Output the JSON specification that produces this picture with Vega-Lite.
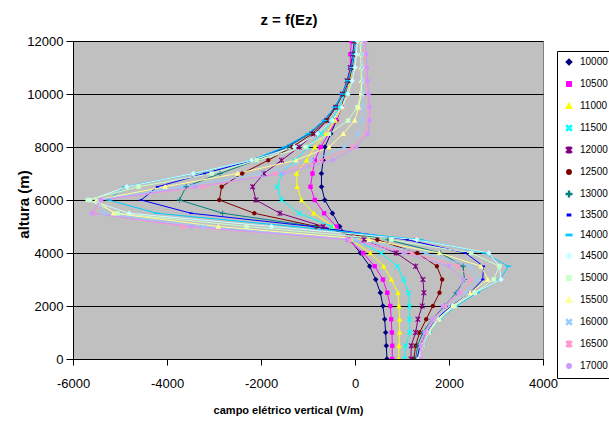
{
"$schema":"https://vega.github.io/schema/vega-lite/v6.json",
"width":470,"height":318,
"autosize":{"type":"none"},
"padding":{"left":73,"top":41,"right":66,"bottom":62},
"background":"white",
"title":{"text":"z = f(Ez)","fontSize":15,"font":"Liberation Sans","fontWeight":"bold","color":"black","anchor":"middle","dx":-19,"offset":7},
"data":{"values":[
{"s":"10000","z":0,"e":680},{"s":"10000","z":500,"e":666},{"s":"10000","z":1000,"e":652},{"s":"10000","z":1500,"e":631},{"s":"10000","z":2000,"e":595},{"s":"10000","z":2500,"e":539},{"s":"10000","z":3000,"e":440},{"s":"10000","z":3500,"e":312},{"s":"10000","z":4000,"e":114},{"s":"10000","z":4500,"e":-110},{"s":"10000","z":5000,"e":-325},{"s":"10000","z":5500,"e":-480},{"s":"10000","z":6000,"e":-643},{"s":"10000","z":6500,"e":-713},{"s":"10000","z":7000,"e":-714},{"s":"10000","z":7500,"e":-678},{"s":"10000","z":8000,"e":-640},{"s":"10000","z":8500,"e":-516},{"s":"10000","z":9000,"e":-396},{"s":"10000","z":9500,"e":-290},{"s":"10000","z":10000,"e":-200},{"s":"10000","z":10500,"e":-130},{"s":"10000","z":11000,"e":-80},{"s":"10000","z":11500,"e":-40},{"s":"10000","z":12000,"e":-10},
{"s":"10500","z":0,"e":793},{"s":"10500","z":500,"e":793},{"s":"10500","z":1000,"e":786},{"s":"10500","z":1500,"e":772},{"s":"10500","z":2000,"e":751},{"s":"10500","z":2500,"e":687},{"s":"10500","z":3000,"e":595},{"s":"10500","z":3500,"e":418},{"s":"10500","z":4000,"e":171},{"s":"10500","z":4500,"e":-148},{"s":"10500","z":5000,"e":-395},{"s":"10500","z":5500,"e":-657},{"s":"10500","z":6000,"e":-855},{"s":"10500","z":6500,"e":-947},{"s":"10500","z":7000,"e":-905},{"s":"10500","z":7500,"e":-855},{"s":"10500","z":8000,"e":-728},{"s":"10500","z":8500,"e":-560},{"s":"10500","z":9000,"e":-400},{"s":"10500","z":9500,"e":-280},{"s":"10500","z":10000,"e":-190},{"s":"10500","z":10500,"e":-130},{"s":"10500","z":11000,"e":-100},{"s":"10500","z":11500,"e":-98},{"s":"10500","z":12000,"e":-77},
{"s":"11000","z":0,"e":928},{"s":"11000","z":500,"e":935},{"s":"11000","z":1000,"e":949},{"s":"11000","z":1500,"e":949},{"s":"11000","z":2000,"e":935},{"s":"11000","z":2500,"e":914},{"s":"11000","z":3000,"e":772},{"s":"11000","z":3500,"e":610},{"s":"11000","z":4000,"e":326},{"s":"11000","z":4500,"e":-77},{"s":"11000","z":5000,"e":-466},{"s":"11000","z":5500,"e":-876},{"s":"11000","z":6000,"e":-1138},{"s":"11000","z":6500,"e":-1230},{"s":"11000","z":7000,"e":-1244},{"s":"11000","z":7500,"e":-1032},{"s":"11000","z":8000,"e":-855},{"s":"11000","z":8500,"e":-620},{"s":"11000","z":9000,"e":-420},{"s":"11000","z":9500,"e":-280},{"s":"11000","z":10000,"e":-180},{"s":"11000","z":10500,"e":-110},{"s":"11000","z":11000,"e":-60},{"s":"11000","z":11500,"e":-30},{"s":"11000","z":12000,"e":0},
{"s":"11500","z":0,"e":1055},{"s":"11500","z":500,"e":1077},{"s":"11500","z":1000,"e":1161},{"s":"11500","z":1500,"e":1161},{"s":"11500","z":2000,"e":1161},{"s":"11500","z":2500,"e":1140},{"s":"11500","z":3000,"e":1034},{"s":"11500","z":3500,"e":900},{"s":"11500","z":4000,"e":560},{"s":"11500","z":4500,"e":0},{"s":"11500","z":5000,"e":-500},{"s":"11500","z":5500,"e":-1188},{"s":"11500","z":6000,"e":-1563},{"s":"11500","z":6500,"e":-1655},{"s":"11500","z":7000,"e":-1563},{"s":"11500","z":7500,"e":-1280},{"s":"11500","z":8000,"e":-1000},{"s":"11500","z":8500,"e":-720},{"s":"11500","z":9000,"e":-500},{"s":"11500","z":9500,"e":-340},{"s":"11500","z":10000,"e":-220},{"s":"11500","z":10500,"e":-140},{"s":"11500","z":11000,"e":-80},{"s":"11500","z":11500,"e":-40},{"s":"11500","z":12000,"e":-10},
{"s":"12000","z":0,"e":1190},{"s":"12000","z":500,"e":1197},{"s":"12000","z":1000,"e":1289},{"s":"12000","z":1500,"e":1338},{"s":"12000","z":2000,"e":1430},{"s":"12000","z":2500,"e":1466},{"s":"12000","z":3000,"e":1445},{"s":"12000","z":3500,"e":1289},{"s":"12000","z":4000,"e":878},{"s":"12000","z":4500,"e":192},{"s":"12000","z":5000,"e":-678},{"s":"12000","z":5500,"e":-1598},{"s":"12000","z":6000,"e":-2108},{"s":"12000","z":6500,"e":-2178},{"s":"12000","z":7000,"e":-1938},{"s":"12000","z":7500,"e":-1563},{"s":"12000","z":8000,"e":-1188},{"s":"12000","z":8500,"e":-860},{"s":"12000","z":9000,"e":-600},{"s":"12000","z":9500,"e":-410},{"s":"12000","z":10000,"e":-270},{"s":"12000","z":10500,"e":-170},{"s":"12000","z":11000,"e":-100},{"s":"12000","z":11500,"e":-50},{"s":"12000","z":12000,"e":-15},
{"s":"12500","z":0,"e":1250},{"s":"12500","z":500,"e":1290},{"s":"12500","z":1000,"e":1374},{"s":"12500","z":1500,"e":1515},{"s":"12500","z":2000,"e":1657},{"s":"12500","z":2500,"e":1798},{"s":"12500","z":3000,"e":1855},{"s":"12500","z":3500,"e":1742},{"s":"12500","z":4000,"e":1324},{"s":"12500","z":4500,"e":475},{"s":"12500","z":5000,"e":-820},{"s":"12500","z":5500,"e":-2143},{"s":"12500","z":6000,"e":-2886},{"s":"12500","z":6500,"e":-2837},{"s":"12500","z":7000,"e":-2400},{"s":"12500","z":7500,"e":-1846},{"s":"12500","z":8000,"e":-1336},{"s":"12500","z":8500,"e":-912},{"s":"12500","z":9000,"e":-608},{"s":"12500","z":9500,"e":-410},{"s":"12500","z":10000,"e":-254},{"s":"12500","z":10500,"e":-127},{"s":"12500","z":11000,"e":-60},{"s":"12500","z":11500,"e":-20},{"s":"12500","z":12000,"e":0},
{"s":"13000","z":0,"e":1290},{"s":"13000","z":500,"e":1330},{"s":"13000","z":1000,"e":1440},{"s":"13000","z":1500,"e":1640},{"s":"13000","z":2000,"e":1905},{"s":"13000","z":2500,"e":2152},{"s":"13000","z":3000,"e":2329},{"s":"13000","z":3500,"e":2300},{"s":"13000","z":4000,"e":1820},{"s":"13000","z":4500,"e":700},{"s":"13000","z":5000,"e":-850},{"s":"13000","z":5500,"e":-2815},{"s":"13000","z":6000,"e":-3735},{"s":"13000","z":6500,"e":-3594},{"s":"13000","z":7000,"e":-2872},{"s":"13000","z":7500,"e":-2100},{"s":"13000","z":8000,"e":-1430},{"s":"13000","z":8500,"e":-960},{"s":"13000","z":9000,"e":-640},{"s":"13000","z":9500,"e":-420},{"s":"13000","z":10000,"e":-270},{"s":"13000","z":10500,"e":-150},{"s":"13000","z":11000,"e":-70},{"s":"13000","z":11500,"e":-25},{"s":"13000","z":12000,"e":0},
{"s":"13500","z":0,"e":1320},{"s":"13500","z":500,"e":1380},{"s":"13500","z":1000,"e":1520},{"s":"13500","z":1500,"e":1720},{"s":"13500","z":2000,"e":2050},{"s":"13500","z":2500,"e":2450},{"s":"13500","z":3000,"e":2719},{"s":"13500","z":3500,"e":2733},{"s":"13500","z":4000,"e":2350},{"s":"13500","z":4500,"e":1112},{"s":"13500","z":5000,"e":-900},{"s":"13500","z":5500,"e":-3488},{"s":"13500","z":6000,"e":-4549},{"s":"13500","z":6500,"e":-4203},{"s":"13500","z":7000,"e":-3200},{"s":"13500","z":7500,"e":-2178},{"s":"13500","z":8000,"e":-1480},{"s":"13500","z":8500,"e":-990},{"s":"13500","z":9000,"e":-660},{"s":"13500","z":9500,"e":-430},{"s":"13500","z":10000,"e":-270},{"s":"13500","z":10500,"e":-150},{"s":"13500","z":11000,"e":-70},{"s":"13500","z":11500,"e":-25},{"s":"13500","z":12000,"e":0},
{"s":"14000","z":0,"e":1380},{"s":"14000","z":500,"e":1440},{"s":"14000","z":1000,"e":1580},{"s":"14000","z":1500,"e":1800},{"s":"14000","z":2000,"e":2150},{"s":"14000","z":2500,"e":2600},{"s":"14000","z":3000,"e":3086},{"s":"14000","z":3500,"e":3263},{"s":"14000","z":4000,"e":2750},{"s":"14000","z":4500,"e":1400},{"s":"14000","z":5000,"e":-1300},{"s":"14000","z":5500,"e":-4217},{"s":"14000","z":6000,"e":-5243},{"s":"14000","z":6500,"e":-4900},{"s":"14000","z":7000,"e":-3400},{"s":"14000","z":7500,"e":-2200},{"s":"14000","z":8000,"e":-1500},{"s":"14000","z":8500,"e":-1000},{"s":"14000","z":9000,"e":-660},{"s":"14000","z":9500,"e":-430},{"s":"14000","z":10000,"e":-270},{"s":"14000","z":10500,"e":-150},{"s":"14000","z":11000,"e":-70},{"s":"14000","z":11500,"e":-25},{"s":"14000","z":12000,"e":0},
{"s":"14500","z":0,"e":1350},{"s":"14500","z":500,"e":1420},{"s":"14500","z":1000,"e":1560},{"s":"14500","z":1500,"e":1780},{"s":"14500","z":2000,"e":2100},{"s":"14500","z":2500,"e":2550},{"s":"14500","z":3000,"e":3108},{"s":"14500","z":3500,"e":3072},{"s":"14500","z":4000,"e":2846},{"s":"14500","z":4500,"e":1317},{"s":"14500","z":5000,"e":-1775},{"s":"14500","z":5500,"e":-4804},{"s":"14500","z":6000,"e":-5650},{"s":"14500","z":6500,"e":-4854},{"s":"14500","z":7000,"e":-3438},{"s":"14500","z":7500,"e":-2200},{"s":"14500","z":8000,"e":-1290},{"s":"14500","z":8500,"e":-800},{"s":"14500","z":9000,"e":-480},{"s":"14500","z":9500,"e":-280},{"s":"14500","z":10000,"e":-150},{"s":"14500","z":10500,"e":-60},{"s":"14500","z":11000,"e":0},{"s":"14500","z":11500,"e":30},{"s":"14500","z":12000,"e":50},
{"s":"15000","z":0,"e":1370},{"s":"15000","z":500,"e":1430},{"s":"15000","z":1000,"e":1570},{"s":"15000","z":1500,"e":1790},{"s":"15000","z":2000,"e":2120},{"s":"15000","z":2500,"e":2550},{"s":"15000","z":3000,"e":2950},{"s":"15000","z":3500,"e":3072},{"s":"15000","z":4000,"e":2471},{"s":"15000","z":4500,"e":772},{"s":"15000","z":5000,"e":-2306},{"s":"15000","z":5500,"e":-5052},{"s":"15000","z":6000,"e":-5689},{"s":"15000","z":6500,"e":-4606},{"s":"15000","z":7000,"e":-3049},{"s":"15000","z":7500,"e":-2094},{"s":"15000","z":8000,"e":-1050},{"s":"15000","z":8500,"e":-550},{"s":"15000","z":9000,"e":-148},{"s":"15000","z":9500,"e":50},{"s":"15000","z":10000,"e":135},{"s":"15000","z":10500,"e":150},{"s":"15000","z":11000,"e":150},{"s":"15000","z":11500,"e":140},{"s":"15000","z":12000,"e":130},
{"s":"15500","z":0,"e":1380},{"s":"15500","z":500,"e":1440},{"s":"15500","z":1000,"e":1560},{"s":"15500","z":1500,"e":1760},{"s":"15500","z":2000,"e":2070},{"s":"15500","z":2500,"e":2450},{"s":"15500","z":3000,"e":2825},{"s":"15500","z":3500,"e":2683},{"s":"15500","z":4000,"e":1798},{"s":"15500","z":4500,"e":300},{"s":"15500","z":5000,"e":-2907},{"s":"15500","z":5500,"e":-5137},{"s":"15500","z":6000,"e":-5500},{"s":"15500","z":6500,"e":-4040},{"s":"15500","z":7000,"e":-2500},{"s":"15500","z":7500,"e":-1258},{"s":"15500","z":8000,"e":-551},{"s":"15500","z":8500,"e":-250},{"s":"15500","z":9000,"e":-6},{"s":"15500","z":9500,"e":80},{"s":"15500","z":10000,"e":130},{"s":"15500","z":10500,"e":135},{"s":"15500","z":11000,"e":130},{"s":"15500","z":11500,"e":120},{"s":"15500","z":12000,"e":110},
{"s":"16000","z":0,"e":1400},{"s":"16000","z":500,"e":1430},{"s":"16000","z":1000,"e":1540},{"s":"16000","z":1500,"e":1720},{"s":"16000","z":2000,"e":2000},{"s":"16000","z":2500,"e":2350},{"s":"16000","z":3000,"e":2600},{"s":"16000","z":3500,"e":2450},{"s":"16000","z":4000,"e":1500},{"s":"16000","z":4500,"e":0},{"s":"16000","z":5000,"e":-3226},{"s":"16000","z":5500,"e":-5350},{"s":"16000","z":6000,"e":-5450},{"s":"16000","z":6500,"e":-3700},{"s":"16000","z":7000,"e":-2000},{"s":"16000","z":7500,"e":-900},{"s":"16000","z":8000,"e":-219},{"s":"16000","z":8500,"e":64},{"s":"16000","z":9000,"e":150},{"s":"16000","z":9500,"e":170},{"s":"16000","z":10000,"e":170},{"s":"16000","z":10500,"e":160},{"s":"16000","z":11000,"e":150},{"s":"16000","z":11500,"e":140},{"s":"16000","z":12000,"e":130},
{"s":"16500","z":0,"e":1410},{"s":"16500","z":500,"e":1420},{"s":"16500","z":1000,"e":1510},{"s":"16500","z":1500,"e":1680},{"s":"16500","z":2000,"e":1930},{"s":"16500","z":2500,"e":2250},{"s":"16500","z":3000,"e":2471},{"s":"16500","z":3500,"e":2200},{"s":"16500","z":4000,"e":1200},{"s":"16500","z":4500,"e":-100},{"s":"16500","z":5000,"e":-3650},{"s":"16500","z":5500,"e":-5561},{"s":"16500","z":6000,"e":-5400},{"s":"16500","z":6500,"e":-3226},{"s":"16500","z":7000,"e":-1700},{"s":"16500","z":7500,"e":-700},{"s":"16500","z":8000,"e":-50},{"s":"16500","z":8500,"e":230},{"s":"16500","z":9000,"e":290},{"s":"16500","z":9500,"e":290},{"s":"16500","z":10000,"e":270},{"s":"16500","z":10500,"e":250},{"s":"16500","z":11000,"e":235},{"s":"16500","z":11500,"e":225},{"s":"16500","z":12000,"e":215},
{"s":"17000","z":0,"e":1410},{"s":"17000","z":500,"e":1400},{"s":"17000","z":1000,"e":1480},{"s":"17000","z":1500,"e":1640},{"s":"17000","z":2000,"e":1870},{"s":"17000","z":2500,"e":2200},{"s":"17000","z":3000,"e":2308},{"s":"17000","z":3500,"e":2000},{"s":"17000","z":4000,"e":1034},{"s":"17000","z":4500,"e":-150},{"s":"17000","z":5000,"e":-3474},{"s":"17000","z":5500,"e":-5597},{"s":"17000","z":6000,"e":-5406},{"s":"17000","z":6500,"e":-3403},{"s":"17000","z":7000,"e":-1527},{"s":"17000","z":7500,"e":-466},{"s":"17000","z":8000,"e":30},{"s":"17000","z":8500,"e":277},{"s":"17000","z":9000,"e":310},{"s":"17000","z":9500,"e":312},{"s":"17000","z":10000,"e":290},{"s":"17000","z":10500,"e":270},{"s":"17000","z":11000,"e":255},{"s":"17000","z":11500,"e":241},{"s":"17000","z":12000,"e":220}
]},
"encoding":{
"x":{"field":"e","type":"quantitative","scale":{"domain":[-6000,4000],"nice":false,"zero":false},
 "axis":{"values":[-6000,-4000,-2000,0,2000,4000],"labelExpr":"'' + datum.value","grid":false,"domainColor":"black","tickColor":"black","tickSize":6,"labelFontSize":13,"labelFont":"Liberation Sans","labelColor":"black","labelPadding":12,"labelFlush":false,"labelOverlap":false,"title":"campo elétrico vertical (V/m)","titleFontSize":11,"titleFont":"Liberation Sans","titleFontWeight":"bold","titleColor":"black","titleX":215,"titleY":51,"titleBaseline":"middle","titleAlign":"center"}},
"y":{"field":"z","type":"quantitative","scale":{"domain":[0,12000],"nice":false},
 "axis":{"values":[0,2000,4000,6000,8000,10000,12000],"labelExpr":"'' + datum.value","grid":true,"gridColor":"black","gridOpacity":1,"gridWidth":1,"domainColor":"black","tickColor":"black","tickSize":7,"labelPadding":3,"labelFontSize":13,"labelFont":"Liberation Sans","labelColor":"black","labelFlush":false,"labelOverlap":false,"title":"altura (m)","titleFontSize":15,"titleFont":"Liberation Sans","titleFontWeight":"bold","titleColor":"black","titleX":-50,"titleY":163,"titleAngle":270,"titleBaseline":"middle","titleAlign":"center"}},
"color":{"field":"s","type":"nominal",
 "scale":{"domain":["10000","10500","11000","11500","12000","12500","13000","13500","14000","14500","15000","15500","16000","16500","17000"],
  "range":["#000080","#FF00FF","#FFFF00","#00FFFF","#800080","#800000","#008080","#0000FF","#00CCFF","#CCFFFF","#CCFFCC","#FFFF99","#99CCFF","#FF99CC","#CC99FF"]},
 "legend":{"title":null,"orient":"none","legendX":484,"legendY":10,"strokeColor":"black","fillColor":"white","padding":6,"rowPadding":10,"labelFontSize":10,"labelFont":"Liberation Sans","labelColor":"black","labelOffset":6,"symbolOffset":1,"symbolSize":30}},
"order":{"field":"z","type":"quantitative"}
},
"layer":[
{"mark":{"type":"line","strokeWidth":1,"clip":true}},
{"mark":{"type":"point","filled":true,"opacity":1,"size":30,"clip":true},
 "encoding":{"shape":{"field":"s","type":"nominal",
  "scale":{"domain":["10000","10500","11000","11500","12000","12500","13000","13500","14000","14500","15000","15500","16000","16500","17000"],
   "range":["M0,-1L1,0L0,1L-1,0Z","M-0.8,-0.8H0.8V0.8H-0.8Z","M0,-1L1,0.8H-1Z","M-1,-0.7L-0.7,-1L0,-0.3L0.7,-1L1,-0.7L0.3,0L1,0.7L0.7,1L0,0.3L-0.7,1L-1,0.7L-0.3,0Z","M-1,-0.7L-0.7,-1L0,-0.3L0.7,-1L1,-0.7L0.3,0L1,0.7L0.7,1L0,0.3L-0.7,1L-1,0.7L-0.3,0ZM-0.15,-1H0.15V1H-0.15Z","M-0.8,0A0.8,0.8,0,1,1,0.8,0A0.8,0.8,0,1,1,-0.8,0Z","M-0.15,-1H0.15V-0.15H1V0.15H0.15V1H-0.15V0.15H-1V-0.15H-0.15Z","M-0.6,-0.3H0.6V0.3H-0.6Z","M-1,-0.25H1V0.25H-1Z","M0,-1L1,0L0,1L-1,0Z","M-0.8,-0.8H0.8V0.8H-0.8Z","M0,-1L1,0.8H-1Z","M-1,-0.7L-0.7,-1L0,-0.3L0.7,-1L1,-0.7L0.3,0L1,0.7L0.7,1L0,0.3L-0.7,1L-1,0.7L-0.3,0Z","M-1,-0.7L-0.7,-1L0,-0.3L0.7,-1L1,-0.7L0.3,0L1,0.7L0.7,1L0,0.3L-0.7,1L-1,0.7L-0.3,0ZM-0.15,-1H0.15V1H-0.15Z","M-0.8,0A0.8,0.8,0,1,1,0.8,0A0.8,0.8,0,1,1,-0.8,0Z"]},
  "legend":{"title":null,"orient":"none","legendX":484,"legendY":10,"strokeColor":"black","fillColor":"white","padding":6,"rowPadding":10,"labelFontSize":10,"labelFont":"Liberation Sans","labelColor":"black","labelOffset":6,"symbolOffset":1,"symbolSize":30}}}}
],
"config":{"view":{"fill":"#C0C0C0","stroke":"#808080","strokeWidth":1},"font":"Liberation Sans"}
}
